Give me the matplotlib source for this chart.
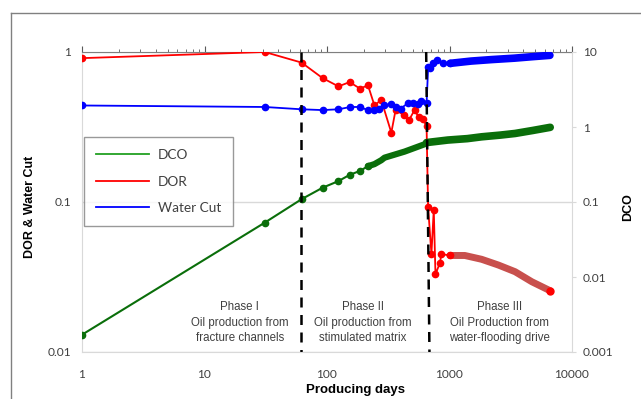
import numpy as np
import matplotlib.pyplot as plt
from matplotlib.lines import Line2D
from matplotlib.ticker import FixedLocator

# DOR (left axis), phase I/II and early phase III points
dor_days = [1, 31, 62, 92, 124, 153, 186, 216, 244, 277, 335, 363, 425, 466, 518, 559, 603, 650,
            669, 712, 744, 768, 833, 860, 1006]
dor = [0.91, 1.0, 0.85, 0.67, 0.59, 0.63, 0.57, 0.60, 0.44, 0.48, 0.29, 0.41, 0.38, 0.35, 0.41, 0.37, 0.36, 0.32,
       0.092, 0.045, 0.089, 0.033, 0.039, 0.045, 0.044]
# DOR phase III (dense markers)
dor3_days = [1006, 1334, 1829, 2505, 3430, 4700, 6640]
dor3 = [0.044, 0.044, 0.0415, 0.038, 0.0343, 0.0294, 0.0256]

# Water cut (left axis)
wc_days = [1, 31, 62, 92, 124, 155, 186, 215, 244, 267, 294, 335, 368, 400, 456, 504, 553, 590, 650,
           670, 690, 735, 790, 890, 1010]
wc = [0.44, 0.43, 0.415, 0.41, 0.415, 0.43, 0.43, 0.41, 0.41, 0.42, 0.44, 0.45, 0.43, 0.42, 0.455, 0.46, 0.45, 0.47, 0.46,
      0.80, 0.78, 0.84, 0.88, 0.84, 0.84]
wc3_days = [1010, 1500, 2200, 3400, 4700, 6600]
wc3 = [0.84, 0.87, 0.89, 0.91, 0.93, 0.95]

# DCO (right axis)
dco_days = [1, 31, 62, 92, 124, 153, 186, 216]
dco = [0.0017, 0.053, 0.109, 0.155, 0.19, 0.23, 0.26, 0.30]
dco2_days = [216, 244, 277, 295, 430, 628, 650]
dco2 = [0.30, 0.32, 0.36, 0.39, 0.47, 0.59, 0.62]
dco3_days = [650, 970, 1400, 1830, 2600, 3430, 4800, 6640]
dco3 = [0.62, 0.67, 0.70, 0.74, 0.78, 0.82, 0.90, 0.99]

phase_text = ["Phase I\nOil production from\nfracture channels",
              "Phase II\nOil production from\nstimulated matrix",
              "Phase III\nOil Production from\nwater-flooding drive"]
phase_x = [19.4, 197, 2545]

plt.rcParams['font.family'] = ['Lato', 'DejaVu Sans']

fig = plt.figure(figsize=(6.41, 3.99), dpi=100)
ax = fig.add_axes([82 / 641, 1 - 352 / 399, 490 / 641, 300 / 399])
ax2 = ax.twinx()

red = '#ff0000'
blue = '#0000ff'
green = '#0a6e0a'

ax.plot(dor3_days, dor3, color='#c8504d', lw=5, solid_capstyle='round', zorder=3)
ax.plot(dor_days, dor, color=red, lw=1.3, marker='o', ms=4.5, zorder=4)
ax.plot([dor3_days[-1]], [dor3[-1]], 'o', color=red, ms=5, zorder=4)
ax.plot(wc3_days, wc3, color=blue, lw=5.5, solid_capstyle='round', zorder=3)
ax.plot(wc_days, wc, color=blue, lw=1.3, marker='o', ms=4.5, zorder=4)

ax2.plot(dco_days, dco, color=green, lw=1.5, marker='o', ms=4.5, zorder=3)
ax2.plot(dco2_days, dco2, color=green, lw=4.5, solid_capstyle='round', zorder=3)
ax2.plot(dco3_days, dco3, color=green, lw=5.5, solid_capstyle='round', zorder=3)

# phase boundaries
ax2.plot([61, 61], [10, 0.001], color='black', lw=1.8, ls=(0, (4, 3)), zorder=5)
ax2.plot([645, 686], [10, 0.001], color='black', lw=1.8, ls=(0, (4, 3)), zorder=5)

for x, t in zip(phase_x, phase_text):
    ax.text(x, 0.097, t, transform=ax.get_xaxis_transform(), ha='center', va='center',
            fontsize=8.3, color='#404040', linespacing=1.38,
            family=['Liberation Sans Narrow', 'Liberation Sans'])

ax.set_xscale('log')
ax.set_yscale('log')
ax2.set_yscale('log')
ax.set_xlim(1, 10000)
ax.set_ylim(0.01, 1)
ax2.set_ylim(0.001, 10)

ax.set_xticks([1, 10, 100, 1000, 10000])
ax.set_xticklabels(['1', '10', '100', '1000', '10000'])
ax.set_yticks([0.01, 0.1, 1])
ax.set_yticklabels(['0.01', '0.1', '1'])
ax.yaxis.set_minor_locator(FixedLocator([]))
ax2.set_yticks([0.001, 0.01, 0.1, 1, 10])
ax2.set_yticklabels(['0.001', '0.01', '0.1', '1', '10'])
ax2.yaxis.set_minor_locator(FixedLocator([]))

ax.tick_params(axis='x', which='both', bottom=False, top=True, labelbottom=True, labeltop=False,
               direction='out', color='#595959', labelcolor='#404040', labelsize=8.6, pad=8)
ax.tick_params(axis='x', which='major', length=4)
ax.tick_params(axis='x', which='minor', length=2.5)
ax.tick_params(axis='y', which='both', length=0, labelcolor='#404040', labelsize=8.6, pad=8)
ax2.tick_params(axis='y', which='both', direction='out', length=3, color='#d9d9d9',
                labelcolor='#404040', labelsize=8.6, pad=5)

ax.grid(axis='y', which='major', color='#d9d9d9', lw=1)
ax.set_axisbelow(True)
for s in ['left', 'bottom']:
    ax.spines[s].set_color('#d9d9d9')
ax.spines['top'].set_color('#7f7f7f')
ax.spines['right'].set_visible(False)
ax2.spines['right'].set_color('#d9d9d9')
ax2.spines['left'].set_visible(False)
ax2.spines['bottom'].set_visible(False)
ax2.spines['top'].set_visible(False)

fig.text(30 / 641, 1 - 207 / 399, 'DOR & Water Cut', rotation=90, ha='center', va='center',
         fontsize=9, fontweight='bold', family='Liberation Sans')
fig.text(628 / 641, 1 - 207 / 399, 'DCO', rotation=90, ha='center', va='center',
         fontsize=9, fontweight='bold', family='Liberation Sans')
fig.text(355 / 641, 1 - 390 / 399, 'Producing days', ha='center', va='center',
         fontsize=9.5, fontweight='bold', family='Liberation Sans')

handles = [Line2D([], [], color='#22a022', lw=1.3),
           Line2D([], [], color=red, lw=1.3),
           Line2D([], [], color=blue, lw=1.3)]
leg = ax2.legend(handles, ['DCO', 'DOR', 'Water Cut'], loc='upper left',
                 bbox_to_anchor=(84 / 641, 1 - 137 / 399), bbox_transform=fig.transFigure,
                 borderaxespad=0, fancybox=False, frameon=True, fontsize=9.8,
                 handlelength=3.9, handletextpad=0.6, labelspacing=1.05, borderpad=0.9)
leg.get_frame().set_edgecolor('#808080')
leg.get_frame().set_linewidth(1)
leg.set_zorder(10)
for t in leg.get_texts():
    t.set_color('#404040')

# outer frame (left and top edges visible)
fig.add_artist(Line2D([10.5 / 641, 10.5 / 641], [0, 1 - 12.5 / 399], transform=fig.transFigure,
                      color='#808080', lw=1))
fig.add_artist(Line2D([10.5 / 641, 1], [1 - 12.5 / 399, 1 - 12.5 / 399], transform=fig.transFigure,
                      color='#808080', lw=1))

fig.savefig('out.png', dpi=100)
